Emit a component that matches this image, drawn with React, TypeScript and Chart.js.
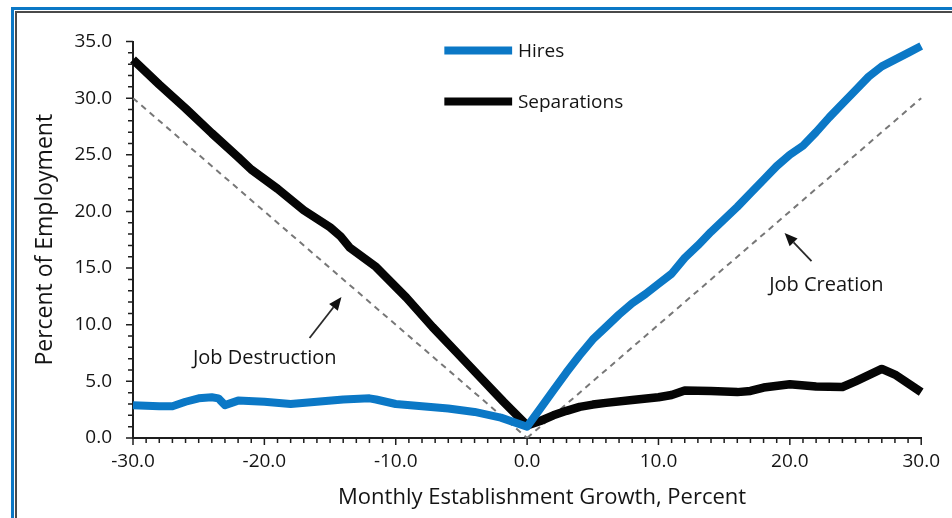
import React, { useEffect, useRef } from "react";
import { Chart, registerables } from "chart.js";

Chart.register(...registerables);

// ---------- data ----------
const hiresX = [
  -30, -28, -27, -26, -25, -24, -23.5, -23, -22, -20, -18, -16, -14, -12, -11.5, -10, -8, -6, -4, -2, 0,
  1, 2, 3, 4, 5, 6, 7, 8, 9, 10, 11, 12, 13, 14, 15, 16, 17, 18, 19, 20, 21, 22, 23, 24, 25, 26, 27, 28, 29, 30,
];
const hiresY = [
  2.9, 2.8, 2.8, 3.2, 3.5, 3.6, 3.5, 2.9, 3.3, 3.2, 3.0, 3.2, 3.4, 3.5, 3.4, 3.0, 2.8, 2.6, 2.3, 1.8, 1.0,
  2.6, 4.2, 5.8, 7.3, 8.7, 9.8, 10.9, 11.9, 12.7, 13.6, 14.5, 15.9, 17.0, 18.2, 19.3, 20.4, 21.6, 22.8, 24.0, 25.0,
  25.8, 27.0, 28.3, 29.5, 30.7, 31.9, 32.8, 33.4, 34.0, 34.6,
];

const sepX = [
  -30, -28, -26, -24, -22, -21, -19, -17, -15, -14.2, -13.5, -11.5, -9.2, -7.2, -5.4, -3.6, -1.8, 0,
  1, 2, 3, 4, 5, 6, 8, 10, 11, 12, 14, 16, 17, 18, 20, 22, 24, 25, 27, 28, 30,
];
const sepY = [
  33.4, 31.2, 29.1, 26.9, 24.8, 23.7, 22.0, 20.1, 18.6, 17.8, 16.8, 15.1, 12.4, 9.8, 7.6, 5.4, 3.2, 1.1,
  1.5, 2.0, 2.4, 2.75, 2.95, 3.1, 3.35, 3.6, 3.8, 4.2, 4.15, 4.05, 4.15, 4.45, 4.75, 4.55, 4.5, 5.0, 6.1, 5.6, 4.05,
];

const destructionX = [-30, 0];
const destructionY = [30, 0];
const creationX = [0, 30];
const creationY = [0, 30];

const seriesNames = ["Hires", "Separations"];
const xTitle = "Monthly Establishment Growth, Percent";
const yTitle = "Percent of Employment";

const xMin = -30, xMax = 30, xMajor = 10, xMinor = 1;
const yMin = 0, yMax = 35, yMajor = 5, yMinor = 1;

// annotation labels & arrows (in data units)
const annoText = ["Job Destruction", "Job Creation"];
const annoTextX = [-19.97, 22.78];
const annoTextY = [7.06, 13.5];
const arrowTailX = [-16.56, 21.65];
const arrowTailY = [8.83, 15.62];
const arrowHeadX = [-14.13, 19.6];
const arrowHeadY = [12.44, 18.09];

// legend placement (data units)
const legendLineX = [-6.3, -1.14];
const legendRowY = [34.2, 29.7];
const legendTextX = -0.7;

// ---------- style ----------
const FONT = "'Open Sans', 'DejaVu Sans', sans-serif";
const BLUE = "#0b78c6";
const BLACK = "#050505";
const DASH = "#777777";
const AXIS = "#1e1e1e";
const TEXT = "#141414";

const pts = (xs: number[], ys: number[]) => xs.map((x, i) => ({ x, y: ys[i] }));

export default function App() {
  const ref = useRef<HTMLCanvasElement | null>(null);

  useEffect(() => {
    const canvas = ref.current;
    if (!canvas) return;

    const overlay = {
      id: "overlay",
      afterDraw(chart: any) {
        const { ctx, chartArea: a } = chart;
        const xs = chart.scales.x;
        const ys = chart.scales.y;
        ctx.save();

        // tick marks
        ctx.strokeStyle = AXIS;
        ctx.lineWidth = 1.5;
        ctx.beginPath();
        for (let v = yMin; v <= yMax + 1e-9; v += yMinor) {
          const p = ys.getPixelForValue(v);
          const len = Math.abs(v % yMajor) < 1e-9 ? 7 : 5;
          ctx.moveTo(a.left - len, p);
          ctx.lineTo(a.left, p);
        }
        for (let v = xMin; v <= xMax + 1e-9; v += xMinor) {
          const p = xs.getPixelForValue(v);
          const len = Math.abs(v % xMajor) < 1e-9 ? 7 : 5;
          ctx.moveTo(p, a.bottom);
          ctx.lineTo(p, a.bottom + len);
        }
        ctx.stroke();

        // axis titles
        ctx.fillStyle = TEXT;
        ctx.textAlign = "center";
        ctx.textBaseline = "middle";
        ctx.font = `22px ${FONT}`;
        ctx.fillText(xTitle, (a.left + a.right) / 2 + 15, a.bottom + 60);
        ctx.save();
        ctx.translate(45, (a.top + a.bottom) / 2);
        ctx.rotate(-Math.PI / 2);
        ctx.font = `23px ${FONT}`;
        ctx.fillText(yTitle, 0, 0);
        ctx.restore();

        // legend
        const colors = [BLUE, BLACK];
        seriesNames.forEach((name, i) => {
          const py = ys.getPixelForValue(legendRowY[i]);
          ctx.strokeStyle = colors[i];
          ctx.lineWidth = 8;
          ctx.lineCap = "butt";
          ctx.beginPath();
          ctx.moveTo(xs.getPixelForValue(legendLineX[0]), py);
          ctx.lineTo(xs.getPixelForValue(legendLineX[1]), py);
          ctx.stroke();
          ctx.fillStyle = TEXT;
          ctx.font = `19px ${FONT}`;
          ctx.textAlign = "left";
          ctx.textBaseline = "middle";
          ctx.fillText(name, xs.getPixelForValue(legendTextX), py + 1);
        });

        // annotations
        annoText.forEach((t, i) => {
          ctx.fillStyle = TEXT;
          ctx.font = `20px ${FONT}`;
          ctx.textAlign = "center";
          ctx.textBaseline = "middle";
          ctx.fillText(t, xs.getPixelForValue(annoTextX[i]), ys.getPixelForValue(annoTextY[i]));

          const tx = xs.getPixelForValue(arrowTailX[i]);
          const ty = ys.getPixelForValue(arrowTailY[i]);
          const hx = xs.getPixelForValue(arrowHeadX[i]);
          const hy = ys.getPixelForValue(arrowHeadY[i]);
          const ang = Math.atan2(hy - ty, hx - tx);
          const headLen = 13;
          const headW = 5.5;
          const bx = hx - headLen * Math.cos(ang);
          const by = hy - headLen * Math.sin(ang);
          ctx.strokeStyle = "#2a2a2a";
          ctx.lineWidth = 1.8;
          ctx.beginPath();
          ctx.moveTo(tx, ty);
          ctx.lineTo(bx, by);
          ctx.stroke();
          ctx.fillStyle = "#111";
          ctx.beginPath();
          ctx.moveTo(hx, hy);
          ctx.lineTo(bx + headW * Math.sin(ang), by - headW * Math.cos(ang));
          ctx.lineTo(bx - headW * Math.sin(ang), by + headW * Math.cos(ang));
          ctx.closePath();
          ctx.fill();
        });

        ctx.restore();
      },
    };

    const chart = new Chart(canvas, {
      type: "line",
      data: {
        datasets: [
          {
            label: seriesNames[0],
            data: pts(hiresX, hiresY),
            borderColor: BLUE,
            borderWidth: 8,
            pointRadius: 0,
            tension: 0,
            borderJoinStyle: "round",
            borderCapStyle: "butt",
            clip: false,
            order: 1,
          },
          {
            label: seriesNames[1],
            data: pts(sepX, sepY),
            borderColor: BLACK,
            borderWidth: 8.5,
            pointRadius: 0,
            tension: 0,
            borderJoinStyle: "round",
            borderCapStyle: "butt",
            clip: false,
            order: 2,
          },
          {
            label: "Job Destruction",
            data: pts(destructionX, destructionY),
            borderColor: DASH,
            borderWidth: 2,
            borderDash: [6, 5],
            pointRadius: 0,
            clip: false,
            order: 3,
          },
          {
            label: "Job Creation",
            data: pts(creationX, creationY),
            borderColor: DASH,
            borderWidth: 2,
            borderDash: [6, 5],
            pointRadius: 0,
            clip: false,
            order: 3,
          },
        ],
      },
      options: {
        responsive: false,
        animation: false,
        devicePixelRatio: 1,
        layout: { padding: { top: 41.5, right: 29, bottom: 0, left: 0 } },
        plugins: { legend: { display: false }, tooltip: { enabled: false } },
        scales: {
          x: {
            type: "linear",
            min: xMin,
            max: xMax,
            grid: { display: false, drawTicks: false },
            border: { display: true, color: AXIS, width: 2 },
            ticks: {
              stepSize: xMajor,
              padding: 12,
              color: TEXT,
              font: { family: FONT, size: 19 },
              maxRotation: 0,
              autoSkip: false,
              callback: (v: any) => Number(v).toFixed(1),
            },
            afterFit: (s: any) => {
              s.height = 80;
            },
          },
          y: {
            type: "linear",
            min: yMin,
            max: yMax,
            grid: { display: false, drawTicks: false },
            border: { display: true, color: AXIS, width: 2 },
            ticks: {
              stepSize: yMajor,
              padding: 21,
              color: TEXT,
              font: { family: FONT, size: 19 },
              autoSkip: false,
              callback: (v: any) => Number(v).toFixed(1),
            },
            afterFit: (s: any) => {
              s.width = 133;
            },
          },
        },
      },
      plugins: [overlay],
    } as any);

    return () => chart.destroy();
  }, []);

  return (
    <div style={{ position: "absolute", left: 0, top: 0, width: 952, height: 518, background: "#fff", overflow: "hidden" }}>
      <canvas ref={ref} width={952} height={518} style={{ display: "block", width: 952, height: 518 }} />
      <div
        style={{
          position: "absolute",
          left: 11,
          top: 7,
          right: 0,
          bottom: 0,
          borderTop: `3px solid ${BLUE}`,
          borderLeft: `3px solid ${BLUE}`,
          pointerEvents: "none",
        }}
      />
      <div
        style={{
          position: "absolute",
          left: 15,
          top: 11,
          right: 0,
          bottom: 0,
          borderTop: "2px solid #4a4a4a",
          borderLeft: "2px solid #4a4a4a",
          pointerEvents: "none",
        }}
      />
    </div>
  );
}
